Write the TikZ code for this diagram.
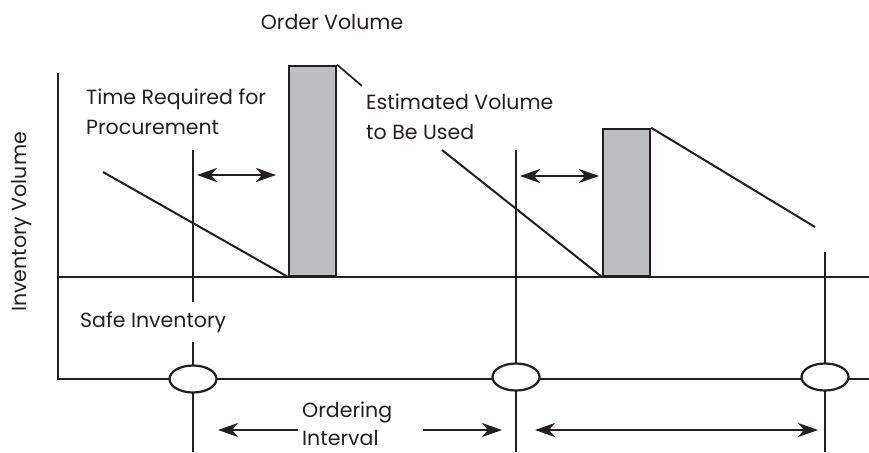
\documentclass[tikz,border=0pt]{standalone}
\usepackage{fontspec}
\setmainfont{Poppins}
\usetikzlibrary{arrows.meta,shapes.geometric}
\definecolor{barfill}{HTML}{BCBEC0}
\definecolor{ink}{HTML}{231F20}
\begin{document}
\begin{tikzpicture}[x=1pt,y=-1pt,
  ln/.style={line width=2pt, draw=ink},
  vln/.style={line width=1.7pt, draw=ink},
  bar/.style={draw=ink, line width=2.2pt, fill=barfill, inner sep=0pt, minimum width=47pt, anchor=south west},
  dbl/.style={line width=2pt, draw=ink, {Stealth[length=20pt,width=14pt,inset=6pt]}-{Stealth[length=20pt,width=14pt,inset=6pt]}},
  sgl/.style={line width=2pt, draw=ink, -{Stealth[length=20pt,width=14pt,inset=6pt]}},
  lbl/.style={font=\fontsize{20.5}{30}\selectfont, align=left, inner sep=0pt, text=ink},
  ring/.style={ellipse, draw=ink, fill=white, line width=2.2pt, minimum width=47pt, minimum height=27pt, inner sep=0pt}
]
\useasboundingbox (0,0) rectangle (869,452);

% axes and levels
\coordinate (ytop) at (58,73);
\coordinate (orig) at (58,379);
\coordinate (xend) at (869,379);
\coordinate (sl) at (58,277);
\coordinate (sr) at (869,277);
\draw[ln] (ytop) -- (orig) -- (xend);
\draw[ln] (sl) -- (sr);

% vertical ordering lines
\coordinate (v1t) at (193,150); \coordinate (v1b) at (193,452);
\coordinate (v2t) at (516,150); \coordinate (v2b) at (516,452);
\coordinate (v3t) at (825,252); \coordinate (v3b) at (825,452);
\draw[vln] (v1t) -- (v1b);
\draw[vln] (v2t) -- (v2b);
\draw[vln] (v3t) -- (v3b);

% order bars
\node[bar, minimum height=210pt] (r1) at (288,277) {};
\node[bar, minimum height=147pt] (r2) at (602,277) {};

% declining inventory
\coordinate (d1) at (103,172);
\coordinate (d2) at (442,150);
\coordinate (d3) at (815,227);
\draw[ln] (d1) -- (r1.south west);
\draw[ln] (d2) -- (r2.south west);
\draw[ln] (r2.north east) -- (d3);

% labels
\node[lbl, anchor=center] (ov) at (332,22) {Order Volume};
\node[lbl, anchor=west] (tr) at (86,112) {Time Required for\\Procurement};
\node[lbl, anchor=west] (ev) at (366,117) {Estimated Volume\\to Be Used};
\draw[line width=1.7pt, draw=ink] (r1.north east) -- (362,86) coordinate (lead);
\node[lbl, anchor=center, rotate=90] (iv) at (22,222) {Inventory Volume};
\node[lbl, anchor=west, fill=white, inner ysep=10pt, inner xsep=2pt] (si) at (78,322) {Safe Inventory};
\node[lbl, anchor=west, font=\fontsize{20.5}{28}\selectfont] (oi) at (302,424) {Ordering\\Interval};

% procurement arrows
\coordinate (a1l) at (197,175); \coordinate (a1r) at (276,175);
\coordinate (a2l) at (520,176); \coordinate (a2r) at (599,176);
\draw[dbl] (a1l) -- (a1r);
\draw[dbl] (a2l) -- (a2r);

% ordering interval arrows
\coordinate (b1s) at (298,430); \coordinate (b1e) at (218,430);
\coordinate (b2s) at (423,430); \coordinate (b2e) at (502,430);
\coordinate (b3s) at (535,430); \coordinate (b3e) at (818,430);
\draw[sgl] (b1s) -- (b1e);
\draw[sgl] (b2s) -- (b2e);
\draw[dbl] (b3s) -- (b3e);

% order points
\node[ring] (e1) at (193,379) {};
\node[ring] (e2) at (516,377) {};
\node[ring] (e3) at (825,377) {};
\end{tikzpicture}
\end{document}
